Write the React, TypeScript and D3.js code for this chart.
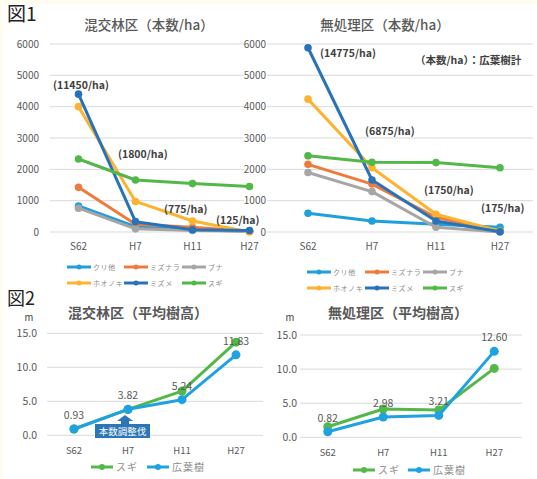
import React from 'react';
import * as d3 from 'd3';

// ---------- data ----------
const categories = ['S62', 'H7', 'H11', 'H27'];
const speciesNames = ['クリ他', 'ミズナラ', 'ブナ', 'ホオノキ', 'ミズメ', 'スギ'];
const speciesColors = ['#1f9fdc', '#ef7b3a', '#a6a6a6', '#fcb331', '#2872b9', '#52b848'];

// 混交林区 本数/ha
const mixedKuri = [830, 170, 75, 25];
const mixedMizunara = [1425, 250, 150, 25];
const mixedBuna = [760, 100, 50, 25];
const mixedHoonoki = [4000, 975, 350, 0];
const mixedMizume = [4400, 330, 70, 50];
const mixedSugi = [2330, 1660, 1545, 1450];

// 無処理区 本数/ha
const untreatedKuri = [600, 350, 250, 150];
const untreatedMizunara = [2160, 1530, 470, 20];
const untreatedBuna = [1900, 1290, 150, 0];
const untreatedHoonoki = [4240, 2050, 565, 25];
const untreatedMizume = [5880, 1660, 350, 10];
const untreatedSugi = [2430, 2225, 2215, 2050];

const countTicks = [0, 1000, 2000, 3000, 4000, 5000, 6000];
const mixedTotals = ['(11450/ha)', '(1800/ha)', '(775/ha)', '(125/ha)'];
const untreatedTotals = ['(14775/ha)', '(6875/ha)', '(1750/ha)', '(175/ha)'];

// 平均樹高 (m)
const heightNames = ['スギ', '広葉樹'];
const heightColors = ['#52b848', '#1fa2e0'];
const mixedSugiH = [0.93, 3.8, 6.5, 13.7];
const mixedBroadH = [0.93, 3.82, 5.24, 11.83];
const untreatedSugiH = [1.55, 4.15, 4.0, 10.1];
const untreatedBroadH = [0.82, 2.98, 3.21, 12.6];
const heightTicks = [0, 5, 10, 15];

const FONT = '"Noto Sans CJK JP", "Noto Sans", sans-serif';
const GRID = '#d9d9d9';
const AXIS_TXT = '#595959';

type Series = { name: string; color: string; values: number[] };

function CountChart(props: {
  series: Series[];
  x0: number; x1: number; gx0: number; gx1: number;
  labelRight: number; title: string; titleX: number;
  totals: string[]; totalPos: [number, number][];
  legendX: number[]; legendY: number[];
}) {
  const { series, x0, x1, gx0, gx1, labelRight, title, titleX, totals, totalPos, legendX, legendY } = props;
  const x = d3.scaleBand<string>().domain(categories).range([x0, x1]);
  const y = d3.scaleLinear().domain([0, 6000]).range([232, 44]);
  const cx = (c: string) => (x(c) as number) + x.bandwidth() / 2;
  const line = d3.line<number>().x((_, i) => cx(categories[i])).y((v) => y(v));
  return (
    <g fontFamily={FONT}>
      <text x={titleX} y={30} textAnchor="middle" fontSize={13.5} fill={AXIS_TXT} fontWeight={500}>{title}</text>
      {countTicks.map((t) => (
        <g key={t}>
          <line x1={gx0} x2={gx1} y1={y(t)} y2={y(t)} stroke={GRID} strokeWidth={1} />
          <text x={labelRight} y={y(t) + 3.5} textAnchor="end" fontSize={10} fill={AXIS_TXT}>{t}</text>
        </g>
      ))}
      {categories.map((c) => (
        <text key={c} x={cx(c)} y={250} textAnchor="middle" fontSize={10} fill={AXIS_TXT}>{c}</text>
      ))}
      {series.map((s) => (
        <g key={s.name}>
          <path d={line(s.values) || ''} fill="none" stroke={s.color} strokeWidth={3} strokeLinejoin="round" />
          {s.values.map((v, i) => (
            <circle key={i} cx={cx(categories[i])} cy={y(v)} r={3.8} fill={s.color} />
          ))}
        </g>
      ))}
      {totals.map((t, i) => (
        <text key={t} x={totalPos[i][0]} y={totalPos[i][1]} fontSize={10.5} fontWeight={700} fill="#404040">{t}</text>
      ))}
      {series.map((s, i) => {
        const lx = legendX[i % 3];
        const ly = legendY[Math.floor(i / 3)];
        return (
          <g key={'lg' + s.name}>
            <line x1={lx} x2={lx + 24} y1={ly} y2={ly} stroke={s.color} strokeWidth={3} />
            <circle cx={lx + 12} cy={ly} r={2.5} fill={s.color} />
            <text x={lx + 26} y={ly + 3} fontSize={7} letterSpacing={0.6} fill="#8c8c8c">{s.name}</text>
          </g>
        );
      })}
    </g>
  );
}

function HeightChart(props: {
  sugi: number[]; broad: number[];
  x0: number; x1: number; yBottom: number; yTop: number;
  labelRight: number; title: string; titleX: number; mX: number;
  legendX: number[]; legendY: number;
  children?: React.ReactNode;
}) {
  const { sugi, broad, x0, x1, yBottom, yTop, labelRight, title, titleX, mX, legendX, legendY } = props;
  const x = d3.scaleBand<string>().domain(categories).range([x0, x1]);
  const y = d3.scaleLinear().domain([0, 15]).range([yBottom, yTop]);
  const cx = (c: string) => (x(c) as number) + x.bandwidth() / 2;
  const line = d3.line<number>().x((_, i) => cx(categories[i])).y((v) => y(v));
  const series = [
    { name: heightNames[0], color: heightColors[0], values: sugi },
    { name: heightNames[1], color: heightColors[1], values: broad },
  ];
  return (
    <g fontFamily={FONT}>
      <text x={titleX} y={318} textAnchor="middle" fontSize={14} fill={AXIS_TXT} fontWeight={700}>{title}</text>
      <text x={mX} y={320.5} textAnchor="middle" fontSize={9.5} fill="#404040">m</text>
      {heightTicks.map((t) => (
        <g key={t}>
          <line x1={x0} x2={x1} y1={y(t)} y2={y(t)} stroke={GRID} strokeWidth={1} />
          <text x={labelRight} y={y(t) + 4} textAnchor="end" fontSize={10.5} fill={AXIS_TXT}>{t.toFixed(1)}</text>
        </g>
      ))}
      {categories.map((c) => (
        <text key={c} x={cx(c)} y={yBottom + 19} textAnchor="middle" fontSize={9.5} fill={AXIS_TXT}>{c}</text>
      ))}
      {series.map((s) => (
        <g key={s.name}>
          <path d={line(s.values) || ''} fill="none" stroke={s.color} strokeWidth={3} strokeLinejoin="round" />
          {s.values.map((v, i) => (
            <circle key={i} cx={cx(categories[i])} cy={y(v)} r={4.5} fill={s.color} />
          ))}
        </g>
      ))}
      {broad.map((v, i) => (
        <text key={'dl' + i} x={cx(categories[i])} y={y(v) - 10} textAnchor="middle" fontSize={10.5} fill={AXIS_TXT}>{v.toFixed(2)}</text>
      ))}
      {series.map((s, i) => (
        <g key={'lg' + s.name}>
          <line x1={legendX[i]} x2={legendX[i] + 22} y1={legendY} y2={legendY} stroke={s.color} strokeWidth={3} />
          <circle cx={legendX[i] + 11} cy={legendY} r={3} fill={s.color} />
          <text x={legendX[i] + 25} y={legendY + 3.5} fontSize={10} letterSpacing={1} fill="#8c8c8c">{s.name}</text>
        </g>
      ))}
      {props.children}
    </g>
  );
}

function mkSeries(vals: number[][]): Series[] {
  return vals.map((v, i) => ({ name: speciesNames[i], color: speciesColors[i], values: v }));
}

export default function App() {
  const mixed = mkSeries([mixedKuri, mixedMizunara, mixedBuna, mixedHoonoki, mixedMizume, mixedSugi]);
  const untreated = mkSeries([untreatedKuri, untreatedMizunara, untreatedBuna, untreatedHoonoki, untreatedMizume, untreatedSugi]);
  return (
    <svg width={537} height={479} style={{ position: 'absolute', left: 0, top: 0 }}>
      <rect x={0} y={0} width={537} height={479} fill="#fffdf0" />
      <rect x={3} y={4} width={534} height={475} fill="#ffffff" />
      <text x={7} y={21} fontSize={19} fontFamily={FONT} fill="#222">図1</text>
      <text x={7} y={305} fontSize={18} fontFamily={FONT} fill="#222">図2</text>

      <CountChart
        series={mixed}
        x0={50} x1={278} gx0={50} gx1={244} labelRight={39}
        title="混交林区（本数/ha）" titleX={149}
        totals={mixedTotals}
        totalPos={[[53, 89], [118, 158], [164, 213], [216, 224]]}
        legendX={[67, 124, 182]} legendY={[267, 283]}
      />
      <CountChart
        series={untreated}
        x0={276} x1={532} gx0={267} gx1={533} labelRight={266}
        title="無処理区（本数/ha）" titleX={385}
        totals={untreatedTotals}
        totalPos={[[320, 57], [365, 135], [424, 194], [481, 212]]}
        legendX={[307, 365, 423]} legendY={[272, 288]}
      />
      <text x={415} y={64} fontSize={10.5} fontWeight={700} fill="#404040" fontFamily={FONT}>（本数/ha）：広葉樹計</text>

      <HeightChart
        sugi={mixedSugiH} broad={mixedBroadH}
        x0={47} x1={263} yBottom={435.3} yTop={333.3} labelRight={37}
        title="混交林区（平均樹高）" titleX={138} mX={29}
        legendX={[91, 147]} legendY={467}
      >
        <path d="M125,415 L133,421 L129,421 L129,424 L150,424 L150,438 L95,438 L95,424 L121,424 L121,421 L117,421 Z" fill="#2e75b6" />
        <text x={122.5} y={434.5} textAnchor="middle" fontSize={9.5} fill="#ffffff" fontFamily={FONT}>本数調整伐</text>
      </HeightChart>
      <HeightChart
        sugi={untreatedSugiH} broad={untreatedBroadH}
        x0={300} x1={522} yBottom={437.3} yTop={335} labelRight={297}
        title="無処理区（平均樹高）" titleX={398} mX={290}
        legendX={[353, 408]} legendY={470}
      />
    </svg>
  );
}
